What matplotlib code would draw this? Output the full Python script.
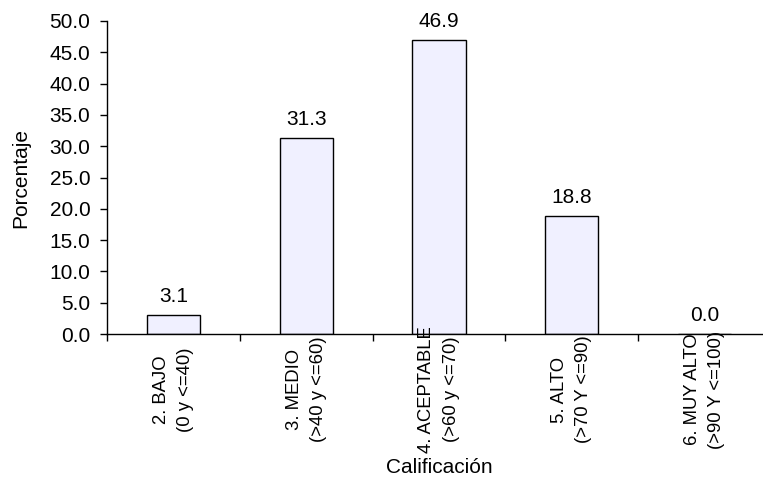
import numpy as np
import matplotlib
matplotlib.use('Agg')
import matplotlib.pyplot as plt

plt.rcParams['font.family'] = ['Liberation Sans', 'DejaVu Sans']

categorias = ['2. BAJO\n(0 y <=40)',
              '3. MEDIO\n(>40 y <=60)',
              '4. ACEPTABLE\n(>60 y <=70)',
              '5. ALTO\n(>70 Y <=90)',
              '6. MUY ALTO\n(>90 Y <=100)']
porcentaje = [3.1, 31.3, 46.9, 18.8, 0.0]
yticks = np.arange(0, 50.1, 5)

fig = plt.figure(figsize=(7.63, 4.79), dpi=100)
ax = fig.add_axes([107/763, 1 - 334/479, 664/763, 313/479])

x = np.arange(len(categorias))
ax.bar(x, porcentaje, width=0.4, color='#F0F0FF', edgecolor='black', linewidth=1)

for xi, v in zip(x, porcentaje):
    ax.annotate('%.1f' % v, (xi, v), xytext=(0, 6.5), textcoords='offset points',
                ha='center', va='bottom', fontsize=15)

ax.set_xlim(-0.5, len(categorias) - 0.5)
ax.set_ylim(0, 50)
ax.set_yticks(yticks)
ax.set_yticklabels(['%.1f' % t for t in yticks], fontsize=15)
ax.tick_params(axis='y', direction='out', length=5, width=1, pad=7)

ax.set_xticks(x)
ax.set_xticklabels(categorias, rotation=90, fontsize=13.3, linespacing=1.55,
                   ha='center', va='center', multialignment='center')
ax.set_xticks(np.arange(-0.5, len(categorias), 1), minor=True)
ax.tick_params(axis='x', which='major', length=0, pad=40)
ax.tick_params(axis='x', which='minor', direction='out', length=5, width=1)

for s in ['top', 'right']:
    ax.spines[s].set_visible(False)
for s in ['left', 'bottom']:
    ax.spines[s].set_linewidth(1)

ax.set_ylabel('Porcentaje', fontsize=15)
ax.yaxis.set_label_coords(-0.116, 0.5)
ax.set_xlabel('Calificación', fontsize=15)
ax.xaxis.set_label_coords(0.5, -0.395)

fig.savefig('out.png', dpi=100)
